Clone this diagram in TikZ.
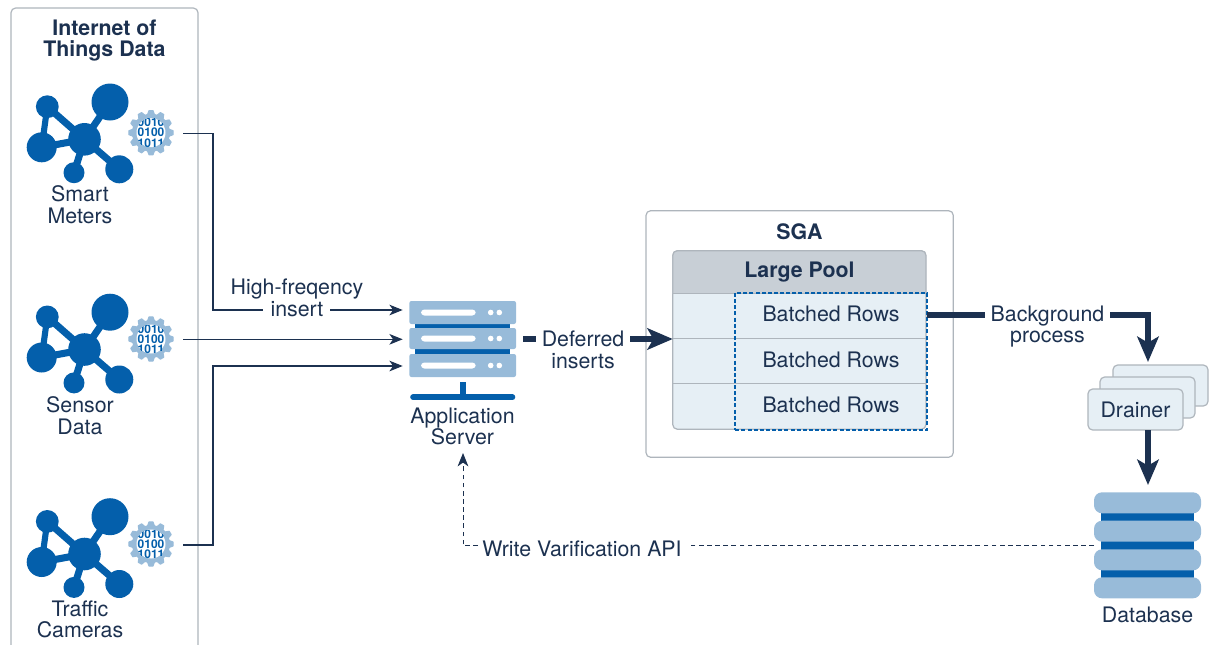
\documentclass[tikz,border=0pt]{standalone}
\usepackage{fontspec}
\setmainfont{TeX Gyre Heros}
\usetikzlibrary{arrows.meta}
\definecolor{ink}{HTML}{1C3150}
\definecolor{blueD}{HTML}{045FAB}
\definecolor{blueL}{HTML}{98BBD9}
\definecolor{paneL}{HTML}{E6EFF5}
\definecolor{headG}{HTML}{C8CFD6}
\definecolor{edgeG}{HTML}{AEB5BC}
\tikzset{
  x=0.75pt,y=-0.75pt,
  lbl/.style={text=ink,font=\fontsize{16}{16.3}\selectfont,align=center,inner sep=0pt},
  blbl/.style={text=ink,font=\fontsize{16}{16.3}\selectfont\bfseries,align=center,inner sep=0pt},
  thintip/.style={-{Stealth[length=10pt,width=8pt,inset=2.8pt]}},
  thinarrow/.style={draw=ink,line width=0.85pt,thintip},
  thinline/.style={draw=ink,line width=0.85pt},
  dashline/.style={draw=ink,line width=0.75pt,dash pattern=on 3.5pt off 2.6pt},
  fatline/.style={draw=ink,line width=3.9pt},
  fatarrow/.style={draw=ink,line width=3.9pt,-{Stealth[length=19pt,width=16pt,inset=4.5pt]}},
  panel/.style={draw=edgeG,line width=0.9pt,rounded corners=3.5pt},
  ghost/.style={inner sep=0pt,outer sep=0pt},
  cluster/.pic={
    \fill[blueD] (0,0) circle[radius=16.3] (25.5,-37.3) circle[radius=18.5] (-37.2,-32.6) circle[radius=11.4]
      (-42.8,8) circle[radius=15] (-10.5,33.4) circle[radius=10.5] (34.8,30) circle[radius=14];
    \draw[blueD,line width=5.3pt] (0,0)--(25.5,-37.3) (0,0)--(-37.2,-32.6) (0,0)--(-42.8,8)
      (0,0)--(-10.5,33.4) (0,0)--(34.8,30);
    \draw[blueD,line width=4.6pt] (-37.2,-32.6)--(-42.8,8);
  },
  gearicon/.pic={
    \foreach \a in {0,30,...,330}{\filldraw[blueL,line width=0.9pt,line join=round,rotate=\a] (-1.9,-22.1) -- (1.9,-22.1) -- (4.2,-16) -- (-4.2,-16) -- cycle;}
    \fill[blueL] (0,0) circle[radius=19];
    \fill[white] (0,0) circle[radius=14.5];
    \begin{scope}
      \clip (0,0) circle[radius=15];
      \node[text=blueD,font=\fontsize{9}{7.6}\selectfont\bfseries,align=center,inner sep=0pt] at (0,0) {0010\\0100\\1011};
    \end{scope}
  },
  pics/serverbar/.style={code={
    \fill[blueL,rounded corners=1.5pt] (-53.3,-#1) rectangle (53.3,#1);
    \fill[white,rounded corners=2.5pt] (-41.7,-3) rectangle (13,3);
    \fill[white] (28,0) circle[radius=2.8] (36.6,0) circle[radius=2.8];
  }}
}
\begin{document}
\begin{tikzpicture}
\useasboundingbox (0,0) rectangle (1215,644);
% IoT container (runs off the bottom of the page)
\begin{scope}
\clip (0,0) rectangle (1215,644);
\draw[panel] (11,660) -- (11,8) -- (198,8) -- (198,660);
\end{scope}
\node[blbl] (iot) at (104.5,40.5) {Internet of\\Things Data};

\pic at (84.5,139.3) {cluster};
\pic at (84.5,349.5) {cluster};
\pic at (84.5,554) {cluster};
\pic at (151,132.7) {gearicon};
\pic at (151,339) {gearicon};
\pic at (151,544) {gearicon};
\coordinate (g1) at (183.3,133.3);
\coordinate (g2) at (183.3,339.3);
\coordinate (g3) at (183.3,545);
\node[lbl] (smart) at (80,204.5) {Smart\\Meters};
\node[lbl] (sensor) at (80,415.5) {Sensor\\Data};
\node[lbl] (traffic) at (80,619.5) {Traffic\\Cameras};

% Application server
\node[ghost,minimum width=80pt,minimum height=57pt] (srv) at (462.7,338.7) {};
\fill[blueD] (415,320) rectangle (510,358);
\pic at (462.7,312.5) {serverbar=11.5};
\pic at (462.7,338.5) {serverbar=10.5};
\pic at (462.7,365.5) {serverbar=11.5};
\fill[blueD] (460.3,381.7) rectangle (465.7,397);
\draw[blueD,line width=4.2pt,line cap=round] (413,397.2) -- (512.5,397.2);
\coordinate (srv1) at ([xshift=-5pt]srv.west |- 0,310);
\coordinate (srv2) at ([xshift=-5pt]srv.west |- g2);
\coordinate (srv3) at ([xshift=-5pt]srv.west |- 0,366);
\node[lbl] (app) at (462.5,426.5) {Application\\Server};

% connectors from the devices
\node[lbl] (hf) at (297,297.5) {High-freqency\\insert};
\draw[thinline] (g1) -- (213,133.3) -- (213,310) -- (262.7,310);
\draw[thinarrow] (330,310) -- (srv1);
\draw[thinarrow] (g2) -- (srv2);
\draw[thinarrow] (g3) -- (213,545) -- (213,366) -- (srv3);

% SGA
\draw[panel,fill=white] (646,210.7) rectangle (953.3,457.3);
\node[blbl] (sga) at (799.5,232) {SGA};
\node[ghost,draw=edgeG,line width=0.9pt,rounded corners=3.5pt,fill=paneL,minimum width=189.9pt,minimum height=133.9pt] (pool) at (799.35,340) {};
\begin{scope}
\clip (672.7,250.7) rectangle (926,293.3);
\fill[headG,draw=edgeG,line width=0.9pt,rounded corners=3.5pt] (672.7,250.7) rectangle (926,310);
\end{scope}
\draw[edgeG,line width=0.9pt] (672.7,293.3) -- (926,293.3);
\draw[edgeG,line width=0.9pt] (672.7,338.3) -- (926,338.3);
\draw[edgeG,line width=0.9pt] (672.7,383.7) -- (926,383.7);
\node[blbl] (lp) at (799.5,272) {Large Pool};
\node[ghost,draw=blueD,line width=1.7pt,dash pattern=on 3pt off 1.6pt,minimum width=144pt,minimum height=102.75pt] (batch) at (831.3,361.2) {};
\node[lbl] (b1) at (831,314) {Batched Rows};
\node[lbl] (b2) at (831,360) {Batched Rows};
\node[lbl] (b3) at (831,405) {Batched Rows};

% Deferred inserts
\node[lbl] (def) at (583,350) {Deferred\\inserts};
\draw[fatline] (523,339) -- (536,339);
\draw[fatarrow] (630,339) -- (pool.west |- 0,339);

% Drainers
\draw[panel,fill=paneL] (1113,365) rectangle (1208,406);
\draw[panel,fill=paneL] (1100,377) rectangle (1195,418);
\node[ghost,draw=edgeG,line width=0.9pt,rounded corners=3.5pt,fill=paneL,text=ink,font=\fontsize{16}{16.3}\selectfont,minimum width=71.25pt,minimum height=30.75pt] (drain) at (1135.5,409.5) {Drainer};

% Background process
\node[lbl] (bg) at (1047.5,326.5) {Background\\process};
\draw[fatline] (batch.east |- 0,315) -- (985,315);
\draw[fatarrow] (1110,315) -- (1148,315) -- (1148,362);

% Database
\node[ghost,minimum width=80.25pt,minimum height=79.5pt] (dbase) at (1147.5,545.5) {};
\fill[blueD] (1101,505) rectangle (1194,585);
\foreach \yy in {492.3,520.7,549.3,577.3}{
  \fill[blueL,rounded corners=6pt] (1094,\yy) rectangle (1201,\yy+21);
}
\draw[fatarrow] (drain.south -| 1148,0) -- (1148,485);
\node[lbl] (db) at (1147.5,615) {Database};

% Verification
\node[lbl] (wv) at (582,549) {Write Varification API};
\draw[dashline] (dbase.west |- 0,545.5) -- ([xshift=5pt]wv.east |- 0,545.5);
\draw[dashline,thintip] ([xshift=-3pt]wv.west |- 0,545.5) -- (463,545.5) -- (463,453);
\end{tikzpicture}
\end{document}
